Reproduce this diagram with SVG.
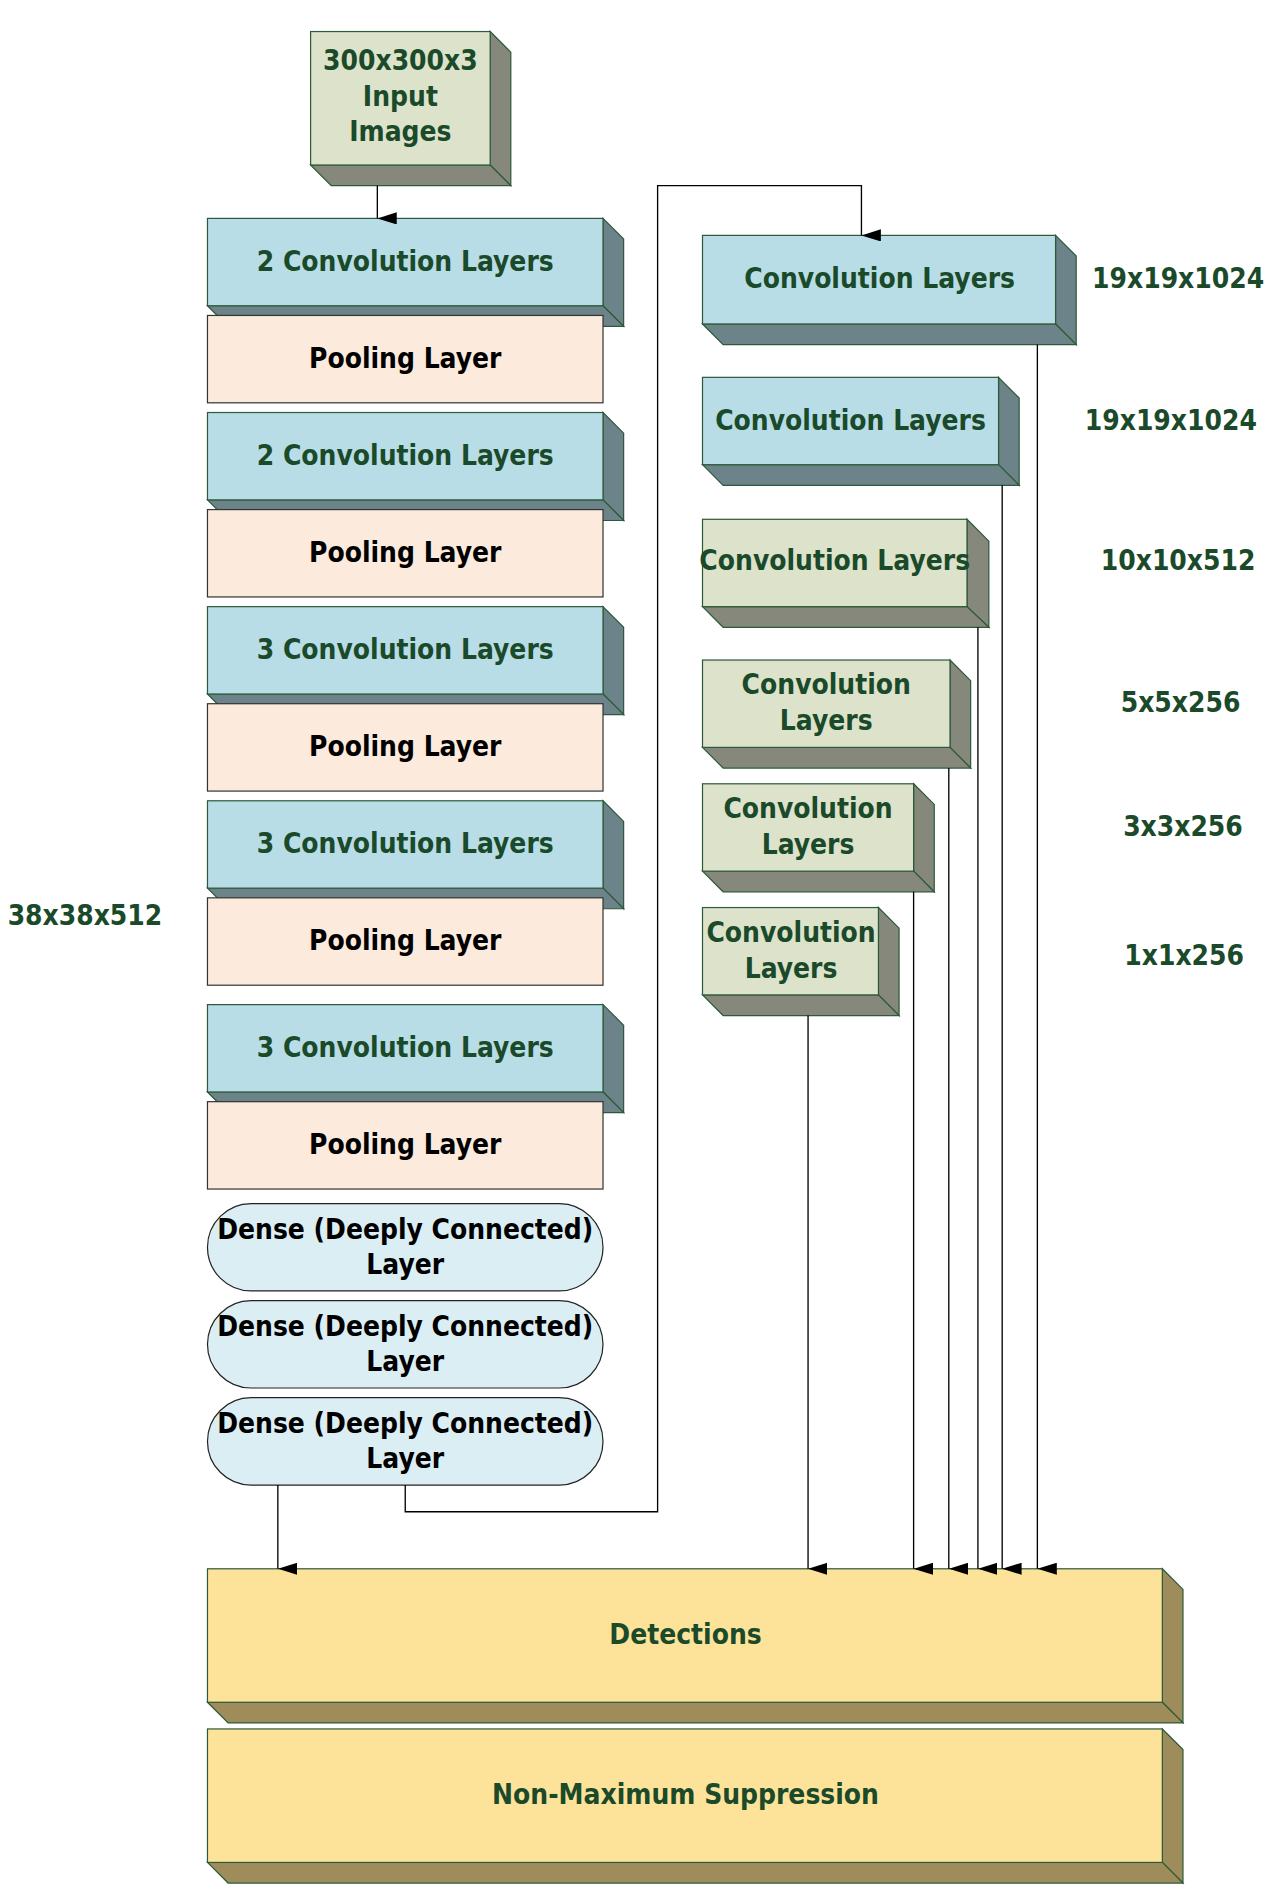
<svg xmlns="http://www.w3.org/2000/svg" width="1274" height="1885" viewBox="0 0 1274 1885">
<style>
.f{stroke:#2d5a3a;stroke-width:1}
.cb{fill:#b8dde6}.cd{fill:#6c8489}
.gb{fill:#dde2cb}.gd{fill:#85887a}
.pb{fill:#fcebdd;stroke:#333;stroke-width:1}
.db{fill:#dbeef4;stroke:#222;stroke-width:1}
.yb{fill:#fde39a}.yd{fill:#9e8c5a}
text{font-family:"Liberation Sans Narrow","DejaVu Sans Condensed","Liberation Sans",sans-serif;font-weight:bold;font-size:23px;text-anchor:middle}
.t{fill:#1a4a2a}.k{fill:#000}
.ln{fill:none;stroke:#000;stroke-width:1.1}
</style>
<defs><marker id="a" markerWidth="10" markerHeight="16" refX="5" refY="16" orient="auto-start-reverse" markerUnits="userSpaceOnUse" viewBox="0 0 10 16"><path d="M0,0L10,0L5,16z" fill="#000" transform="rotate(0)"/></marker></defs>
<rect width="1274" height="1885" fill="#fff"/>
<g transform="scale(1.2133)">
<g id="input"><path class="f gd" d="M404,26L421,43L421,153L404,136z"/><path class="f gd" d="M256,136L273,153L421,153L404,136z"/><rect class="f gb" x="256" y="26" width="148" height="110"/>
<text class="t" x="330" y="58">300x300x3</text><text class="t" x="330" y="87">Input</text><text class="t" x="330" y="116">Images</text></g>
<g id="c1"><path class="f cd" d="M497,180L514,197L514,269L497,252z"/><path class="f cd" d="M171,252L188,269L514,269L497,252z"/><rect class="f cb" x="171" y="180" width="326" height="72"/><text class="t" x="334" y="223">2 Convolution Layers</text></g>
<g id="p1"><rect class="pb" x="171" y="260" width="326" height="72"/><text class="k" x="334" y="303">Pooling Layer</text></g>
<g id="c2"><path class="f cd" d="M497,340L514,357L514,429L497,412z"/><path class="f cd" d="M171,412L188,429L514,429L497,412z"/><rect class="f cb" x="171" y="340" width="326" height="72"/><text class="t" x="334" y="383">2 Convolution  Layers</text></g>
<g id="p2"><rect class="pb" x="171" y="420" width="326" height="72"/><text class="k" x="334" y="463">Pooling Layer</text></g>
<g id="c3"><path class="f cd" d="M497,500L514,517L514,589L497,572z"/><path class="f cd" d="M171,572L188,589L514,589L497,572z"/><rect class="f cb" x="171" y="500" width="326" height="72"/><text class="t" x="334" y="543">3 Convolution Layers</text></g>
<g id="p3"><rect class="pb" x="171" y="580" width="326" height="72"/><text class="k" x="334" y="623">Pooling Layer</text></g>
<g id="c4"><path class="f cd" d="M497,660L514,677L514,749L497,732z"/><path class="f cd" d="M171,732L188,749L514,749L497,732z"/><rect class="f cb" x="171" y="660" width="326" height="72"/><text class="t" x="334" y="703">3 Convolution Layers</text></g>
<g id="p4"><rect class="pb" x="171" y="740" width="326" height="72"/><text class="k" x="334" y="783">Pooling Layer</text></g>
<g id="c5"><path class="f cd" d="M497,828L514,845L514,917L497,900z"/><path class="f cd" d="M171,900L188,917L514,917L497,900z"/><rect class="f cb" x="171" y="828" width="326" height="72"/><text class="t" x="334" y="871">3 Convolution Layers</text></g>
<g id="p5"><rect class="pb" x="171" y="908" width="326" height="72"/><text class="k" x="334" y="951">Pooling Layer</text></g>
<g id="d1"><rect class="db" x="171" y="992" width="326" height="72" rx="36"/><text class="k" x="334" y="1021">Dense  (Deeply Connected)</text><text class="k" x="334" y="1050">Layer</text></g>
<g id="d2"><rect class="db" x="171" y="1072" width="326" height="72" rx="36"/><text class="k" x="334" y="1101">Dense  (Deeply Connected)</text><text class="k" x="334" y="1130">Layer</text></g>
<g id="d3"><rect class="db" x="171" y="1152" width="326" height="72" rx="36"/><text class="k" x="334" y="1181">Dense  (Deeply Connected)</text><text class="k" x="334" y="1210">Layer</text></g>
<g id="rA"><path class="f cd" d="M870,194L887,211L887,284L870,267z"/><path class="f cd" d="M579,267L596,284L887,284L870,267z"/><rect class="f cb" x="579" y="194" width="291" height="73"/><text class="t" x="725" y="237">Convolution Layers</text></g>
<g id="rB"><path class="f cd" d="M823,311L840,328L840,400L823,383z"/><path class="f cd" d="M579,383L596,400L840,400L823,383z"/><rect class="f cb" x="579" y="311" width="244" height="72"/><text class="t" x="701" y="354">Convolution Layers</text></g>
<g id="rC"><path class="f gd" d="M797,428L815,446L815,517L797,500z"/><path class="f gd" d="M579,500L596,517L815,517L797,500z"/><rect class="f gb" x="579" y="428" width="218" height="72"/><text class="t" x="688" y="470">Convolution Layers</text></g>
<g id="rD"><path class="f gd" d="M783,544L800,561L800,633L783,616z"/><path class="f gd" d="M579,616L596,633L800,633L783,616z"/><rect class="f gb" x="579" y="544" width="204" height="72"/><text class="t" x="681" y="572">Convolution</text><text class="t" x="681" y="602">Layers</text></g>
<g id="rE"><path class="f gd" d="M753,646L770,663L770,735L753,718z"/><path class="f gd" d="M579,718L596,735L770,735L753,718z"/><rect class="f gb" x="579" y="646" width="174" height="72"/><text class="t" x="666" y="674">Convolution</text><text class="t" x="666" y="704">Layers</text></g>
<g id="rF"><path class="f gd" d="M724,748L741,765L741,837L724,820z"/><path class="f gd" d="M579,820L596,837L741,837L724,820z"/><rect class="f gb" x="579" y="748" width="145" height="72"/><text class="t" x="652" y="776">Convolution</text><text class="t" x="652" y="806">Layers</text></g>
<g id="det"><path class="f yd" d="M958,1293L975,1310L975,1420L958,1403z"/><path class="f yd" d="M171,1403L188,1420L975,1420L958,1403z"/><rect class="f yb" x="171" y="1293" width="787" height="110"/><text class="t" x="565" y="1355">Detections</text></g>
<g id="nms"><path class="f yd" d="M958,1425L975,1442L975,1552L958,1535z"/><path class="f yd" d="M171,1535L188,1552L975,1552L958,1535z"/><rect class="f yb" x="171" y="1425" width="787" height="110"/><text class="t" x="565" y="1487">Non-Maximum Suppression</text></g>
<g id="labels">
<text class="t" x="971" y="237">19x19x1024</text><text class="t" x="965" y="354">19x19x1024</text><text class="t" x="971" y="470">10x10x512</text><text class="t" x="973" y="587">5x5x256</text><text class="t" x="975" y="689">3x3x256</text><text class="t" x="976" y="795">1x1x256</text><text class="t" x="70" y="762">38x38x512</text>
</g>
<g id="connectors">
<path class="ln" d="M311,153V180" marker-end="url(#a)"/>
<path class="ln" d="M334,1224V1246H542V153H710V194" marker-end="url(#a)"/>
<path class="ln" d="M229,1224V1293" marker-end="url(#a)"/>
<path class="ln" d="M855,284V1293" marker-end="url(#a)"/>
<path class="ln" d="M826,400V1293" marker-end="url(#a)"/>
<path class="ln" d="M806,517V1293" marker-end="url(#a)"/>
<path class="ln" d="M782,633V1293" marker-end="url(#a)"/>
<path class="ln" d="M753,735V1293" marker-end="url(#a)"/>
<path class="ln" d="M666,837V1293" marker-end="url(#a)"/>
</g>
</g>
</svg>
